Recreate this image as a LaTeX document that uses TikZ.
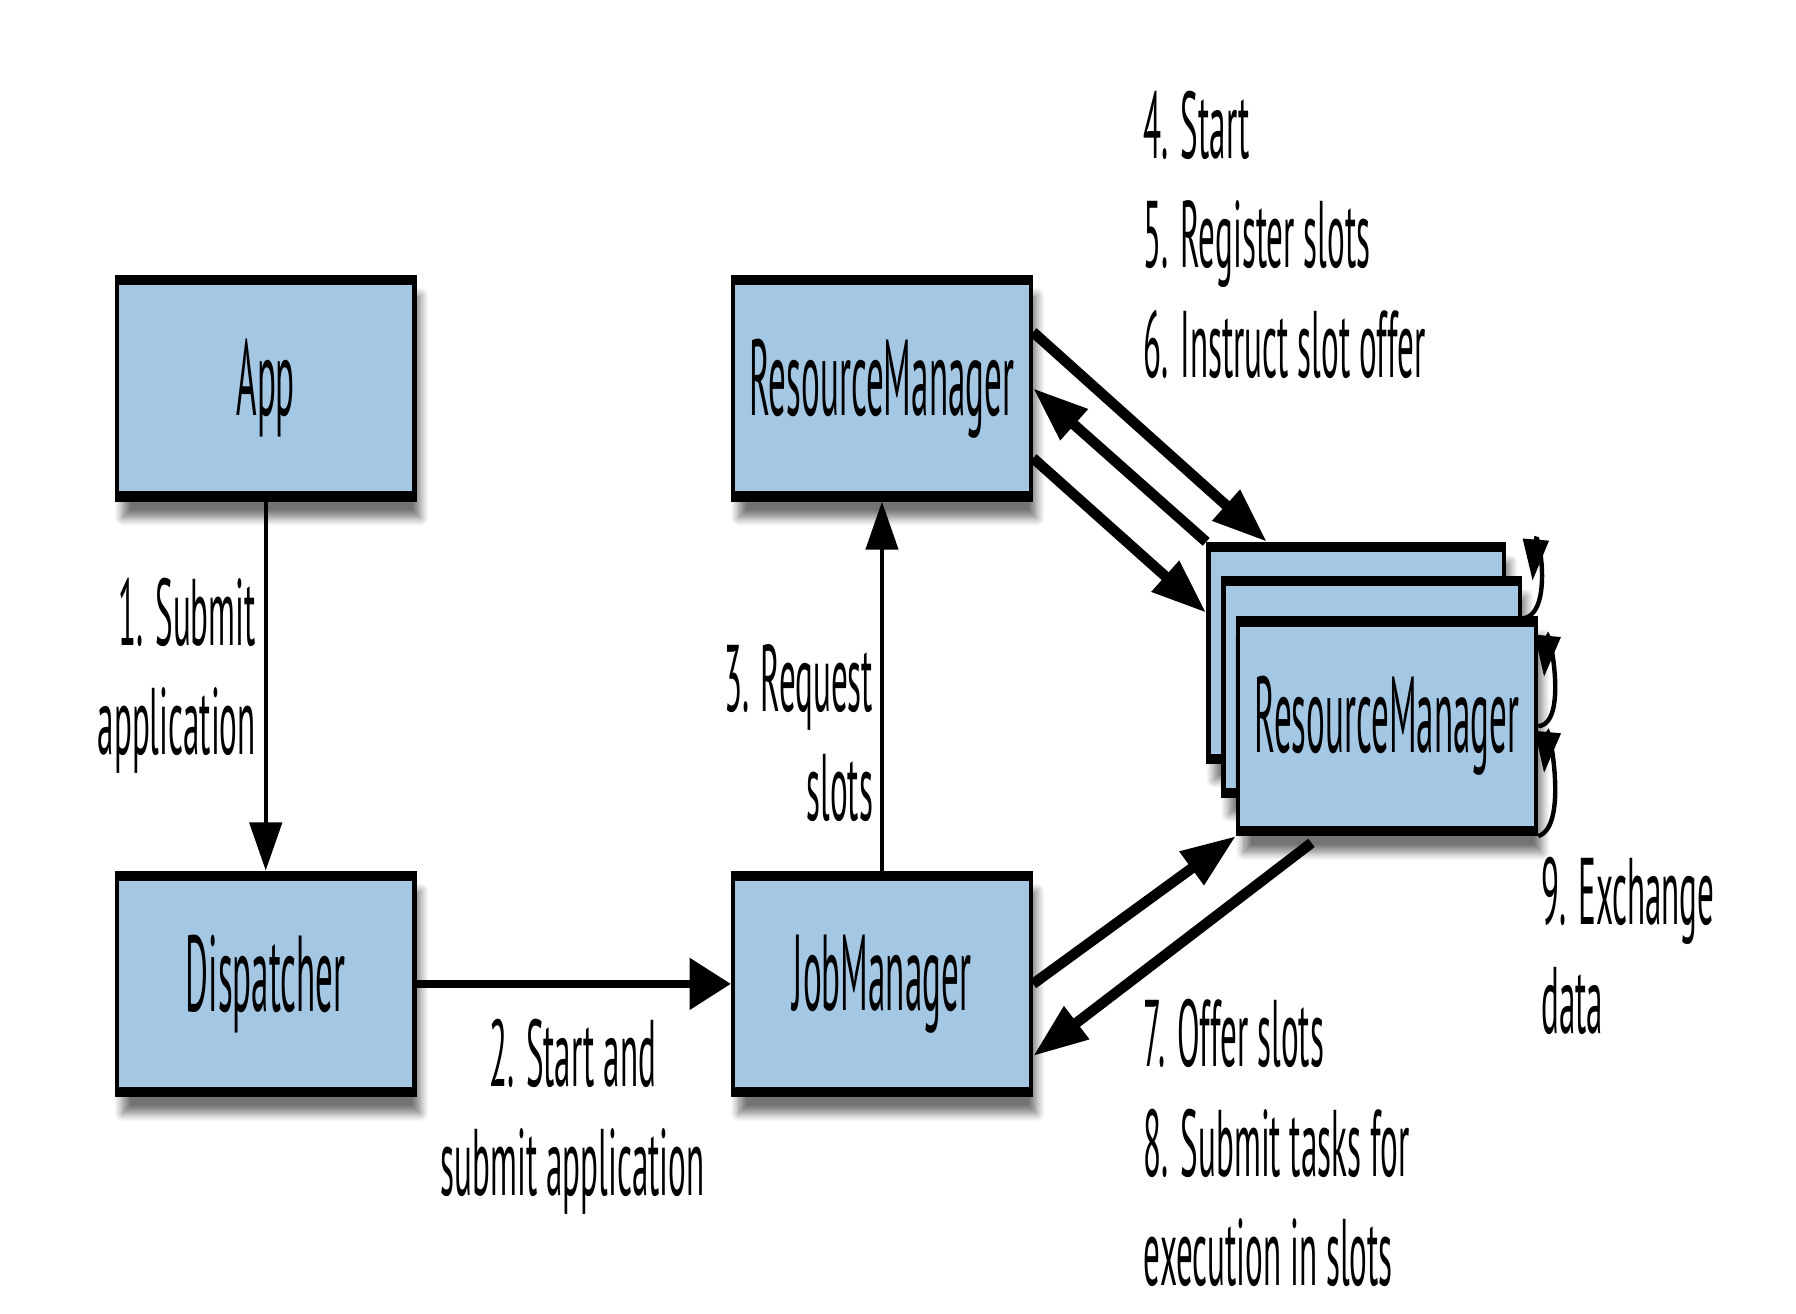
\documentclass[tikz,border=0pt]{standalone}
\usepackage{fontspec}
\setmainfont[FakeStretch=0.35]{PT Sans}
\newfontfamily\boxfont[FakeStretch=0.325]{PT Sans}
\usetikzlibrary{arrows.meta,shadows.blur,positioning}
\definecolor{boxblue}{RGB}{164,199,228}

\tikzset{
  box/.style={draw, line width=1.1pt, fill=boxblue, inner sep=0pt,
    minimum width=2.6cm, minimum height=1.94cm,
    font=\boxfont\fontsize{26.8}{30}\selectfont,
    blur shadow={shadow xshift=0.05cm, shadow yshift=-0.16cm, shadow blur steps=10, shadow opacity=55},
    path picture={\draw[line width=4pt]
      (path picture bounding box.north west) -- (path picture bounding box.north east)
      (path picture bounding box.south west) -- (path picture bounding box.south east);}},
  lbl/.style={inner sep=0pt, font=\fontsize{23.5}{27.2}\selectfont},
  flow/.style={-{Triangle[length=0.48cm,width=0.34cm]}, line width=2.6pt},
  midflow/.style={-{Triangle[length=0.36cm,width=0.44cm]}, line width=1.8pt},
  thinflow/.style={-{Triangle[length=0.42cm,width=0.28cm]}, line width=1.1pt},
  loopflow/.style={-{Triangle[length=0.36cm,width=0.22cm]}, line width=1.1pt}
}

\begin{document}
\begin{tikzpicture}
    \useasboundingbox (0,0) rectangle (15.68,11.47);
    % boxes
    \node[box] (app) at (2.32,8.08) {App};
    \node[box] (disp) at (2.32,2.88) {Dispatcher};
    \node[box] (rm) at (7.70,8.08) {ResourceManager};
    \node[box] (jm) at (7.70,2.88) {JobManager};
    \node[box, minimum width=2.58cm, minimum height=1.9cm] (tmback) at (11.84,5.77) {};
    \node[box, minimum width=2.59cm, minimum height=1.9cm] (tmmid) at (11.975,5.47) {};
    \node[box, minimum height=1.88cm] (tm) at (12.11,5.13) {ResourceManager};

    % arrows
    \draw[thinflow] (app) -- (disp);
    \draw[midflow] (disp) -- (jm);
    \draw[thinflow] (jm) -- (rm);
    \draw[flow] ([yshift=0.49cm]rm.east) -- ([xshift=0.53cm]tmback.north west);
    \draw[flow] (tmback.north west) -- (rm.east);
    \draw[flow] ([yshift=-0.61cm]rm.east) -- ([yshift=0.35cm]tmback.west);
    \draw[flow] (jm.east) -- (tm.south west);
    \draw[flow] ([xshift=-0.66cm,yshift=-0.06cm]tm.south) -- ([yshift=-0.63cm]jm.east);

    % self loops
    \coordinate (t1) at ([yshift=0.6cm]tmmid.east);
    \coordinate (h1) at (13.38,6.40);
    \coordinate (h2) at (13.48,5.56);
    \coordinate (h3) at (13.48,4.72);
    \draw[loopflow] (t1) .. controls (13.58,6.10) and (13.42,6.90) .. (h1);
    \draw[loopflow] (tm.east) .. controls (13.70,5.15) and (13.52,6.00) .. (h2);
    \draw[loopflow] (tm.south east) .. controls (13.70,4.25) and (13.52,5.15) .. (h3);

    % labels
    \node[lbl, anchor=east, align=right] (l1) at (2.24,5.57) {1. Submit\\application};
    \node[lbl, anchor=east, align=right] (l3) at (7.63,5.07) {3. Request\\slots};
    \node[lbl, align=center] (l2) at (5.0,1.72) {2. Start and\\submit application};
    \node[lbl, anchor=west, align=left] (l456) at (9.98,9.42) {4. Start\\5. Register slots\\6. Instruct slot offer};
    \node[lbl, anchor=west, align=left] (l78) at (9.98,1.49) {7. Offer slots\\8. Submit tasks for\\execution in slots};
    \node[lbl, anchor=west, align=left] (l9) at (13.45,3.21) {9. Exchange\\data};
\end{tikzpicture}
\end{document}
